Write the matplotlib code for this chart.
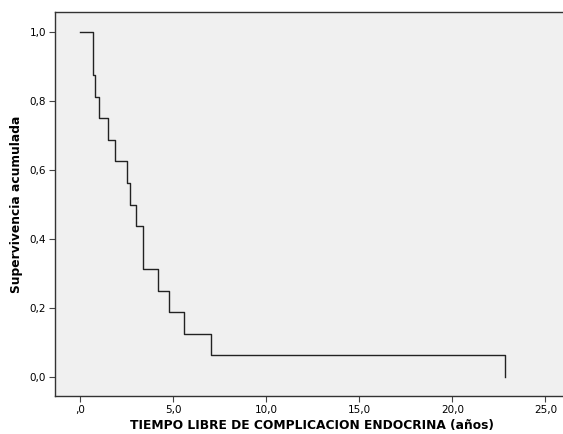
import numpy as np
import matplotlib.pyplot as plt

# Kaplan-Meier steps
times = [0.0, 0.70, 0.79, 1.00, 1.50, 1.90, 2.51, 2.71, 2.99, 3.40, 4.21, 4.80, 5.61, 7.03, 22.83]
survival = [1.0, 0.875, 0.8125, 0.75, 0.6875, 0.625, 0.5625, 0.5, 0.4375, 0.3125, 0.25, 0.1875, 0.125, 0.0625, 0.0]

x_ticks = [0, 5, 10, 15, 20, 25]
x_ticklabels = [',0', '5,0', '10,0', '15,0', '20,0', '25,0']
y_ticks = [0.0, 0.2, 0.4, 0.6, 0.8, 1.0]
y_ticklabels = ['0,0', '0,2', '0,4', '0,6', '0,8', '1,0']


def main():
    fig = plt.figure(figsize=(5.63, 4.34), dpi=100)
    ax = fig.add_axes([55 / 563, 1 - 396 / 434, 1 - 55 / 563 + 0.01, (396 - 12) / 434])
    ax.set_facecolor('#f0f0f0')

    ax.step(times, survival, where='post', color='#222222', lw=1.0)

    ax.set_xlim((55 - 80) / 18.63, (569 - 80) / 18.63)
    ax.set_ylim((377 - 396) / 345, (377 - 12) / 345)

    ax.set_xticks(x_ticks)
    ax.set_xticklabels(x_ticklabels, fontsize=7.5)
    ax.set_yticks(y_ticks)
    ax.set_yticklabels(y_ticklabels, fontsize=7.5)
    ax.tick_params(direction='out', length=4, width=0.8, color='#444444', pad=2.5)

    for side in ['top', 'bottom', 'left', 'right']:
        ax.spines[side].set_color('#333333')
        ax.spines[side].set_linewidth(1.0)

    ax.set_xlabel('TIEMPO LIBRE DE COMPLICACION ENDOCRINA (años)', fontsize=8.8,
                  fontweight='bold', labelpad=3)
    ax.set_ylabel('Supervivencia acumulada', fontsize=8.8, fontweight='bold', labelpad=5)

    fig.savefig('out.png', dpi=100, facecolor='white')


if __name__ == "__main__":
    main()
